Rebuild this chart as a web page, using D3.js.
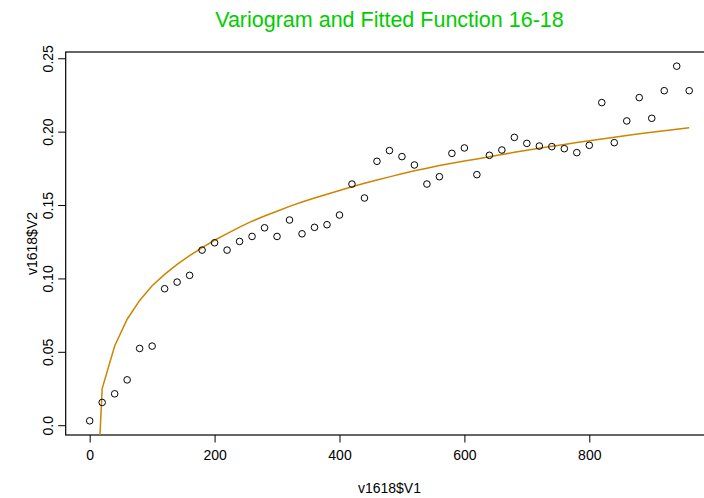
<!DOCTYPE html>
<html>
<head>
<meta charset="utf-8">
<script src="https://cdn.jsdelivr.net/npm/d3@7"></script>
<style>
  body { margin: 0; background: #fff; }
  text { font-family: "Liberation Sans", Arial, sans-serif; fill: #000; }
</style>
</head>
<body>
<div id="chart-area"></div>
<script>

// lag distances and empirical semivariance
let lags = [0, 20, 40, 60, 80, 100, 120, 140, 160, 180, 200, 220, 240, 260, 280, 300, 320, 340, 360, 380,
	400, 420, 440, 460, 480, 500, 520, 540, 560, 580, 600, 620, 640, 660, 680, 700, 720, 740, 760, 780,
	800, 820, 840, 860, 880, 900, 920, 940, 960];

let gamma = [0.0030, 0.0155, 0.0214, 0.0309, 0.0523, 0.0539, 0.0930, 0.0975, 0.1021, 0.1193,
	0.1243, 0.1193, 0.1252, 0.1286, 0.1345, 0.1286, 0.1398, 0.1304, 0.1348, 0.1366,
	0.1432, 0.1643, 0.1548, 0.1798, 0.1871, 0.1830, 0.1773, 0.1643, 0.1693, 0.1852,
	0.1889, 0.1707, 0.1839, 0.1875, 0.1961, 0.1920, 0.1902, 0.1898, 0.1884, 0.1857,
	0.1907, 0.2198, 0.1925, 0.2073, 0.2232, 0.2091, 0.2279, 0.2446, 0.2279];

// fitted function, read at the same lags
let fitted = [-0.156, 0.025, 0.054, 0.0722, 0.0850, 0.0950, 0.1028, 0.1096, 0.1155, 0.121,
	0.126, 0.1305, 0.135, 0.139, 0.1425, 0.1458, 0.1491, 0.1521, 0.1548, 0.1573,
	0.1599, 0.1624, 0.1648, 0.1671, 0.1692, 0.1713, 0.1733, 0.1751, 0.1769, 0.1785,
	0.1800, 0.1814, 0.1829, 0.1844, 0.1859, 0.1873, 0.1887, 0.1900, 0.1913, 0.1926,
	0.1938, 0.1950, 0.1962, 0.1973, 0.1985, 0.1996, 0.2006, 0.2017, 0.2027];

let xTicks = [0, 200, 400, 600, 800];
let yTicks = [0, 0.05, 0.10, 0.15, 0.20, 0.25];
let yTickLabels = ["0.0", "0.05", "0.10", "0.15", "0.20", "0.25"];

let titleText = "Variogram and Fitted Function 16-18";
let xLabel = "v1618$V1";
let yLabel = "v1618$V2";

let W = 704, H = 498;
let plot = {left: 65.7, right: 713.2, top: 52, bottom: 435};

let svg = d3.select("#chart-area").append("svg")
	.attr("width", W)
	.attr("height", H);

// R style 4% padding on data range
let xExt = d3.extent(lags);
let yExt = d3.extent(gamma);
let xPad = (xExt[1] - xExt[0]) * 0.04;
let yPad = (yExt[1] - yExt[0]) * 0.04;

let x = d3.scaleLinear()
	.domain([xExt[0] - xPad, xExt[1] + xPad])
	.range([plot.left, plot.right]);

let y = d3.scaleLinear()
	.domain([yExt[0] - yPad, yExt[1] + yPad])
	.range([plot.bottom, plot.top]);

svg.append("clipPath")
	.attr("id", "clip")
	.append("rect")
	.attr("x", plot.left)
	.attr("y", plot.top)
	.attr("width", plot.right - plot.left)
	.attr("height", plot.bottom - plot.top);

// axes
let xAxis = d3.axisBottom(x)
	.tickValues(xTicks)
	.tickSize(7.5)
	.tickPadding(8)
	.tickFormat(d3.format("d"));

let xAxisGroup = svg.append("g")
	.attr("transform", "translate(0," + plot.bottom + ")")
	.call(xAxis);
xAxisGroup.select(".domain").remove();
xAxisGroup.selectAll("line").attr("stroke", "#000").attr("stroke-width", 1);
xAxisGroup.selectAll("text")
	.style("font-size", "14px")
	.style("font-family", "Liberation Sans, Arial, sans-serif");

// y axis: rotated labels like R's default las=0
let yAxis = d3.axisLeft(y)
	.tickValues(yTicks)
	.tickSize(7.5)
	.tickFormat((d, i) => yTickLabels[i]);

let yAxisGroup = svg.append("g")
	.attr("transform", "translate(" + plot.left + ",0)")
	.call(yAxis);
yAxisGroup.select(".domain").remove();
yAxisGroup.selectAll("line").attr("stroke", "#000").attr("stroke-width", 1);
yAxisGroup.selectAll("text")
	.attr("x", null)
	.attr("dy", null)
	.attr("transform", "translate(-13,0) rotate(-90)")
	.attr("text-anchor", "middle")
	.style("font-size", "14px")
	.style("font-family", "Liberation Sans, Arial, sans-serif");

// box
svg.append("rect")
	.attr("x", plot.left)
	.attr("y", plot.top)
	.attr("width", plot.right - plot.left)
	.attr("height", plot.bottom - plot.top)
	.attr("fill", "none")
	.attr("stroke", "#000")
	.attr("stroke-width", 1.2);

// fitted curve
let line = d3.line()
	.x((d, i) => x(lags[i]))
	.y(d => y(d));

svg.append("path")
	.datum(fitted)
	.attr("clip-path", "url(#clip)")
	.attr("d", line)
	.attr("fill", "none")
	.attr("stroke", "#CD8500")
	.attr("stroke-width", 1.5);

// empirical points
svg.selectAll("circle.pt")
	.data(gamma)
	.enter()
	.append("circle")
	.classed("pt", true)
	.attr("cx", (d, i) => x(lags[i]))
	.attr("cy", d => y(d))
	.attr("r", 3.3)
	.attr("fill", "none")
	.attr("stroke", "#000")
	.attr("stroke-width", 1);

// title and labels
svg.append("text")
	.attr("x", (plot.left + plot.right) / 2)
	.attr("y", 27)
	.attr("text-anchor", "middle")
	.style("font-size", "21.5px")
	.style("fill", "#00CD00")
	.text(titleText);

svg.append("text")
	.attr("x", (plot.left + plot.right) / 2)
	.attr("y", 493)
	.attr("text-anchor", "middle")
	.style("font-size", "14px")
	.text(xLabel);

svg.append("text")
	.attr("transform", "translate(37," + (plot.top + plot.bottom) / 2 + ") rotate(-90)")
	.attr("text-anchor", "middle")
	.style("font-size", "14px")
	.text(yLabel);

</script>
</body>
</html>
